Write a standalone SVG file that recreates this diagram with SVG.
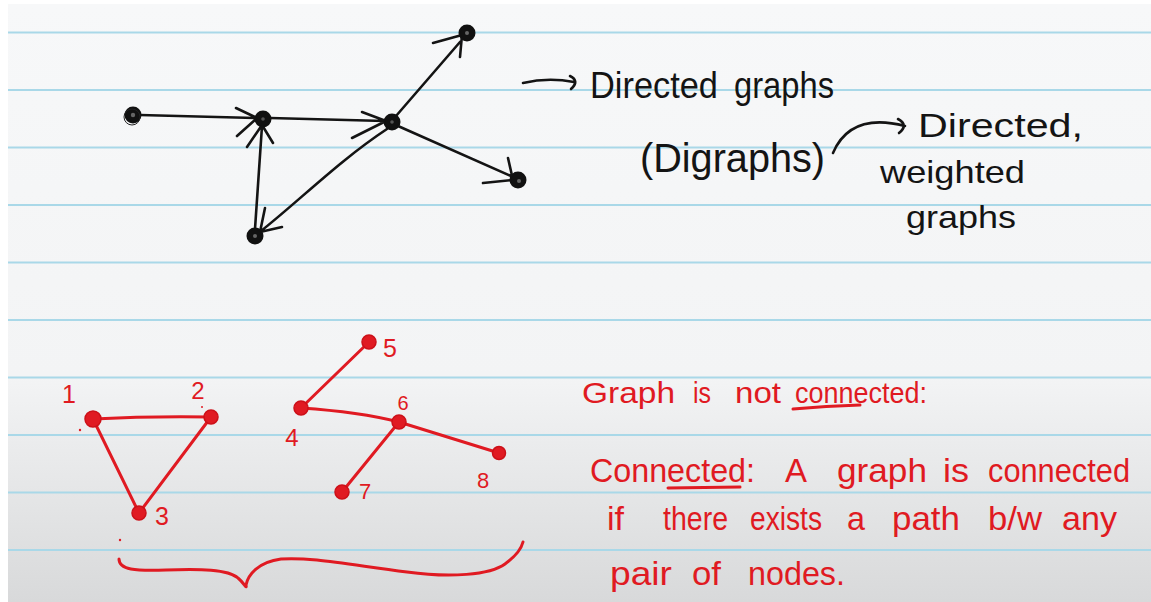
<svg xmlns="http://www.w3.org/2000/svg" width="1151" height="602" viewBox="0 0 1151 602">
<defs>
<linearGradient id="shade" x1="0" y1="0" x2="0" y2="1">
<stop offset="0" stop-color="#f7f8f9"/>
<stop offset="0.62" stop-color="#f3f4f5"/>
<stop offset="1" stop-color="#d8d9da"/>
</linearGradient>
<style>
.rule{stroke:#a9d8e8;stroke-width:2}
.ink{fill:none;stroke:#141414;stroke-width:2.6;stroke-linecap:round;stroke-linejoin:round}
.red{fill:none;stroke:#e01a22;stroke-width:3;stroke-linecap:round;stroke-linejoin:round}
.bnode{fill:#111;stroke:#111;stroke-width:2}
.rnode{fill:#e01a22;stroke:#cc1018;stroke-width:1.5}
.bt{font-family:"Liberation Sans",Arial,sans-serif;fill:#141414}
.rt{font-family:"Liberation Sans",Arial,sans-serif;fill:#e01a22}
</style>
</defs>
<rect width="1151" height="602" fill="#ffffff"/>
<rect x="8" y="4" width="1143" height="598" fill="url(#shade)"/>
<g id="rules">
<line class="rule" x1="8" y1="32.5" x2="1151" y2="32.5"/>
<line class="rule" x1="8" y1="90" x2="1151" y2="90"/>
<line class="rule" x1="8" y1="147.5" x2="1151" y2="147.5"/>
<line class="rule" x1="8" y1="205" x2="1151" y2="205"/>
<line class="rule" x1="8" y1="262.5" x2="1151" y2="262.5"/>
<line class="rule" x1="8" y1="320" x2="1151" y2="320"/>
<line class="rule" x1="8" y1="377.5" x2="1151" y2="377.5"/>
<line class="rule" x1="8" y1="435" x2="1151" y2="435"/>
<line class="rule" x1="8" y1="492.5" x2="1151" y2="492.5"/>
<line class="rule" x1="8" y1="550" x2="1151" y2="550"/>
</g>
<g id="connectors">
<path class="ink" d="M140,115 L255,118 M236,108 L257,118 L237,136"/>
<path class="ink" d="M270,118 L385,121 M362,112 L386,121 L352,138"/>
<path class="ink" d="M255,229 L262,126 M247,147 L262,125 L273,143"/>
<path class="ink" d="M387,129 C340,160 300,200 261,231 M282,227 L260,232 L265,208"/>
<path class="ink" d="M396,116 L460,42 M433,43 L462,35 L460,57"/>
<path class="ink" d="M398,126 L511,176 M483,183 L513,180 L508,158"/>
<path class="red" d="M93,419 Q150,416 211,417"/>
<path class="red" d="M93,419 L139,513"/>
<path class="red" d="M211,417 L139,513"/>
<path class="red" d="M301,408 L369,342"/>
<path class="red" d="M301,408 Q360,412 399,422"/>
<path class="red" d="M399,422 L342,492"/>
<path class="red" d="M399,422 L499,453"/>
</g>
<g id="node-a"><circle class="bnode" cx="133" cy="115" r="7.5"/><circle cx="133" cy="115" r="2.2" fill="#666"/><circle cx="132" cy="117" r="8" fill="none" stroke="#222" stroke-width="1"/></g>
<g id="node-b"><circle class="bnode" cx="263" cy="119" r="7.5"/><circle cx="263" cy="119" r="1.8" fill="#555"/></g>
<g id="node-c"><circle class="bnode" cx="392" cy="122" r="7.5"/><circle cx="392" cy="122" r="1.8" fill="#555"/></g>
<g id="node-d"><circle class="bnode" cx="467" cy="33" r="7.5"/><circle cx="467" cy="33" r="2" fill="#666"/></g>
<g id="node-e"><circle class="bnode" cx="518" cy="180" r="7.5"/><circle cx="519" cy="181" r="2" fill="#666"/></g>
<g id="node-f"><circle class="bnode" cx="255" cy="236" r="7.5"/><circle cx="255" cy="236" r="2" fill="#666"/></g>
<g id="labels-top">
<path class="ink" d="M523,83 C540,79 558,79 574,82 M570,76 Q580,81 571,89"/>
<text class="bt" font-size="36" y="98"><tspan x="590" textLength="128" lengthAdjust="spacingAndGlyphs">Directed</tspan><tspan x="734" textLength="100" lengthAdjust="spacingAndGlyphs">graphs</tspan></text>
<text class="bt" x="640" y="172" font-size="40" textLength="185" lengthAdjust="spacingAndGlyphs">(Digraphs)</text>
<path class="ink" d="M833,153 C845,125 870,117 905,126 M898,119 Q909,125 899,133"/>
<text class="bt" x="918" y="137" font-size="34" textLength="165" lengthAdjust="spacingAndGlyphs">Directed,</text>
<text class="bt" x="880" y="183" font-size="32" textLength="145" lengthAdjust="spacingAndGlyphs">weighted</text>
<text class="bt" x="906" y="228" font-size="32" textLength="110" lengthAdjust="spacingAndGlyphs">graphs</text>
</g>
<g id="node-1"><circle class="rnode" cx="93" cy="419" r="8"/><text class="rt" x="69" y="403" font-size="25" text-anchor="middle">1</text></g>
<g id="node-2"><circle class="rnode" cx="211" cy="417" r="7"/><text class="rt" x="198" y="399" font-size="24" text-anchor="middle">2</text></g>
<g id="node-3"><circle class="rnode" cx="139" cy="513" r="7"/><text class="rt" x="162" y="525" font-size="25" text-anchor="middle">3</text></g>
<g id="node-4"><circle class="rnode" cx="301" cy="408" r="7"/><text class="rt" x="292" y="446" font-size="24" text-anchor="middle">4</text></g>
<g id="node-5"><circle class="rnode" cx="369" cy="342" r="7"/><text class="rt" x="390" y="357" font-size="25" text-anchor="middle">5</text></g>
<g id="node-6"><circle class="rnode" cx="399" cy="422" r="7"/><text class="rt" x="403" y="410" font-size="20" text-anchor="middle">6</text></g>
<g id="node-7"><circle class="rnode" cx="342" cy="492" r="7"/><text class="rt" x="365" y="499" font-size="22" text-anchor="middle">7</text></g>
<g id="node-8"><circle class="rnode" cx="499" cy="453" r="6.5"/><text class="rt" x="483" y="488" font-size="22" text-anchor="middle">8</text></g>
<g id="brace">
<path class="red" stroke-width="2" d="M119,559 C119,570 135,571 166,570 C200,569 228,569 238,578 C244,583 247,590 246,585 C248,575 258,562 281,559 C310,557 345,564 407,572 C450,578 490,575 505,564 C516,556 521,550 523,542"/>
<circle cx="80" cy="430" r="1.2" fill="#e01a22"/>
<circle cx="120" cy="540" r="1.2" fill="#e01a22"/>
<circle cx="202" cy="407" r="1" fill="#e01a22"/>
</g>
<g id="labels-bottom">
<text class="rt" font-size="30" y="403"><tspan x="582" textLength="93" lengthAdjust="spacingAndGlyphs">Graph</tspan><tspan x="693" textLength="18" lengthAdjust="spacingAndGlyphs">is</tspan><tspan x="735" textLength="46" lengthAdjust="spacingAndGlyphs">not</tspan><tspan x="795" textLength="132" lengthAdjust="spacingAndGlyphs">connected:</tspan></text>
<path class="red" stroke-width="2.5" d="M793,409 Q826,406 860,405"/>
<text class="rt" font-size="34" y="482"><tspan x="590" textLength="165" lengthAdjust="spacingAndGlyphs">Connected:</tspan><tspan x="785" textLength="22" lengthAdjust="spacingAndGlyphs">A</tspan><tspan x="837" textLength="90" lengthAdjust="spacingAndGlyphs">graph</tspan><tspan x="943" textLength="26" lengthAdjust="spacingAndGlyphs">is</tspan><tspan x="988" textLength="142" lengthAdjust="spacingAndGlyphs">connected</tspan></text>
<path class="red" stroke-width="2.5" d="M668,488 L740,487"/>
<text class="rt" font-size="34" y="530"><tspan x="607">if</tspan><tspan x="663" textLength="65" lengthAdjust="spacingAndGlyphs">there</tspan><tspan x="750" textLength="72" lengthAdjust="spacingAndGlyphs">exists</tspan><tspan x="847" textLength="18" lengthAdjust="spacingAndGlyphs">a</tspan><tspan x="892" textLength="68" lengthAdjust="spacingAndGlyphs">path</tspan><tspan x="988" textLength="54" lengthAdjust="spacingAndGlyphs">b/w</tspan><tspan x="1062" textLength="55" lengthAdjust="spacingAndGlyphs">any</tspan></text>
<text class="rt" font-size="34" y="585"><tspan x="610" textLength="62" lengthAdjust="spacingAndGlyphs">pair</tspan><tspan x="692" textLength="29" lengthAdjust="spacingAndGlyphs">of</tspan><tspan x="748" textLength="97" lengthAdjust="spacingAndGlyphs">nodes.</tspan></text>
</g>
</svg>
